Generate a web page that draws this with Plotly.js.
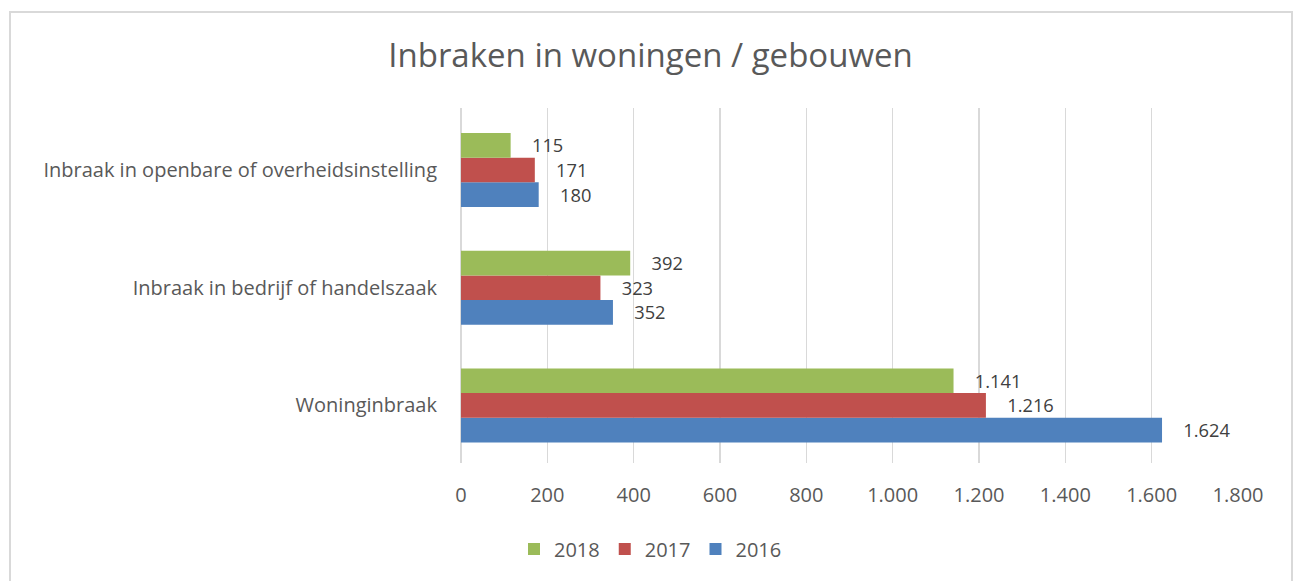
<!DOCTYPE html>
<html>
<head>
<meta charset="utf-8">
<script src="https://cdn.plot.ly/plotly-3.0.1.min.js"></script>
<style>
  html, body { margin: 0; padding: 0; background: #fff; }
  #wrap { position: relative; width: 1301px; height: 581px; overflow: hidden; }
  #chart { width: 1301px; height: 581px; }
  #frame { position: absolute; left: 9px; top: 11px; width: 1284px; height: 620px;
           border: 2px solid #d9d9d9; pointer-events: none; box-sizing: border-box; }
</style>
</head>
<body>
<div id="wrap">
  <div id="chart"></div>
  <div id="frame"></div>
</div>
<script>
const categories = [
  "Woninginbraak",
  "Inbraak in bedrijf of handelszaak",
  "Inbraak in openbare of overheidsinstelling"
];
const years = ["2016", "2017", "2018"];
const values2016 = [1624, 352, 180];
const values2017 = [1216, 323, 171];
const values2018 = [1141, 392, 115];
const colors = { "2016": "#4F81BD", "2017": "#C0504D", "2018": "#9BBB59" };
const seriesValues = { "2016": values2016, "2017": values2017, "2018": values2018 };
const xTicks = [0, 200, 400, 600, 800, 1000, 1200, 1400, 1600, 1800];

const FONT = "Open Sans, Noto Sans, sans-serif";

const traces = years.map(y => ({
  type: "bar",
  orientation: "h",
  name: y,
  y: categories,
  x: seriesValues[y],
  marker: { color: colors[y] },
  texttemplate: "\u2002\u2002%{x:,d}",
  textposition: "outside",
  cliponaxis: false,
  textfont: { family: FONT, size: 20, color: "#404040" },
  hoverinfo: "x+name"
}));

const layout = {
  width: 1301,
  height: 581,
  paper_bgcolor: "#ffffff",
  plot_bgcolor: "#ffffff",
  separators: ",.",
  font: { family: FONT, color: "#595959", size: 20 },
  title: {
    text: "Inbraken in woningen / gebouwen",
    font: { family: FONT, size: 33, color: "#595959" },
    x: 0.5, xanchor: "center", xref: "container",
    y: 0.905, yanchor: "middle", yref: "container"
  },
  margin: { l: 461, r: 63, t: 108, b: 118 },
  barmode: "group",
  bargap: 0.371,
  bargroupgap: 0,
  xaxis: {
    range: [0, 1800],
    tickvals: xTicks,
    tickformat: ",d",
    separatethousands: true,
    showgrid: true,
    gridcolor: "#d9d9d9",
    gridwidth: 1.5,
    zeroline: true,
    zerolinecolor: "#d9d9d9",
    zerolinewidth: 1.5,
    showline: false,
    ticks: "",
    ticklabelstandoff: 18,
    tickfont: { family: FONT, size: 20, color: "#595959" },
    fixedrange: true
  },
  yaxis: {
    type: "category",
    categoryorder: "array",
    categoryarray: categories,
    range: [-0.489, 2.527],
    showgrid: false,
    zeroline: false,
    showline: false,
    ticks: "",
    ticklabelstandoff: 23,
    tickfont: { family: FONT, size: 20, color: "#595959" },
    fixedrange: true
  },
  showlegend: true,
  legend: {
    orientation: "h",
    traceorder: "reversed",
    xref: "container", x: 0.5, xanchor: "center",
    yref: "container", y: 0.055, yanchor: "middle",
    font: { family: FONT, size: 20, color: "#595959" },
    itemwidth: 30
  }
};

Plotly.newPlot("chart", traces, layout, { displayModeBar: false, staticPlot: true });
</script>
</body>
</html>
